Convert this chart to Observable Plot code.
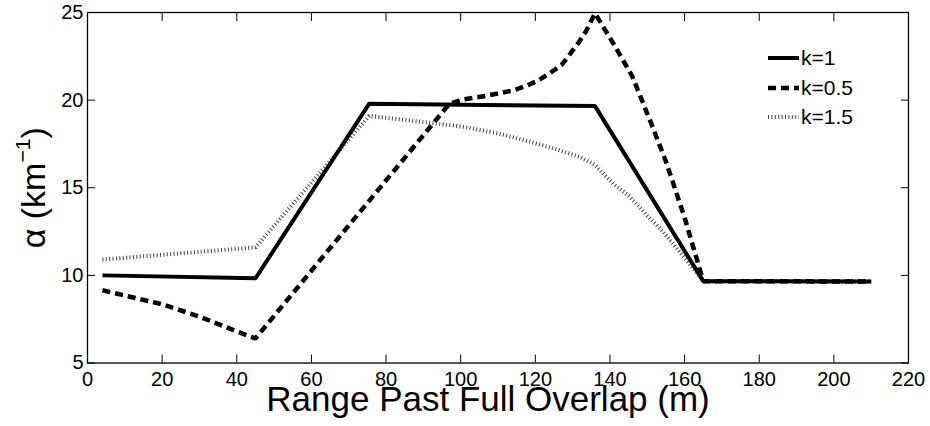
<!DOCTYPE html>
<html>
<head>
<meta charset="utf-8">
<script src="https://cdn.jsdelivr.net/npm/d3@7"></script>
<script src="https://cdn.jsdelivr.net/npm/@observablehq/plot@0.6"></script>
<style>
  html, body { margin: 0; padding: 0; background: #fff; }
  #wrap { position: relative; width: 930px; height: 426px; }
  #legend { position: absolute; left: 0; top: 0; pointer-events: none; }
</style>
</head>
<body>
<div id="wrap"></div>
<script>
// ---- data ----
const xTicks = [0, 20, 40, 60, 80, 100, 120, 140, 160, 180, 200, 220];
const yTicks = [5, 10, 15, 20, 25];

const k1X = [4, 45, 75.5, 136, 165, 210];
const k1Y = [10.0, 9.83, 19.8, 19.66, 9.67, 9.65];

const k05X = [4, 20, 30, 40, 45, 97, 101, 107, 114, 118, 121, 124, 127, 129, 131.5, 133.5, 136, 141, 146, 151, 155, 160, 165, 210];
const k05Y = [9.15, 8.35, 7.65, 6.8, 6.4, 19.8, 20.05, 20.25, 20.55, 20.85, 21.15, 21.55, 22.0, 22.55, 23.25, 23.9, 24.95, 23.2, 21.35, 18.7, 16.5, 13.3, 9.67, 9.65];

const k15X = [4, 45, 75.5, 90, 100, 110, 120, 127, 132, 136, 141, 145, 150, 154, 160, 165, 210];
const k15Y = [10.9, 11.6, 19.1, 18.75, 18.5, 18.1, 17.55, 17.1, 16.75, 16.3, 15.2, 14.55, 13.4, 12.55, 11.0, 9.67, 9.65];

const seriesNames = ["k=1", "k=0.5", "k=1.5"];
const xLabel = "Range Past Full Overlap (m)";
const yLabelBase = "α (km";
const yLabelSup = "−1";
const yLabelEnd = ")";
const yLabel = yLabelBase + yLabelSup + yLabelEnd;

// ---- build tables ----
const toRows = (xs, ys) => xs.map((x, i) => ({x, y: ys[i]}));
const k1 = toRows(k1X, k1Y);
const k05 = toRows(k05X, k05Y);
const k15 = toRows(k15X, k15Y);

const font = "'Liberation Sans', Arial, Helvetica, sans-serif";
const styles = {
  "k=1":   {stroke: "#000", strokeWidth: 4, strokeDasharray: null},
  "k=0.5": {stroke: "#000", strokeWidth: 4.5, strokeDasharray: "8,5"},
  "k=1.5": {stroke: "#444", strokeWidth: 4, strokeDasharray: "1,2.4"}
};

const chart = Plot.plot({
  width: 930,
  height: 426,
  marginLeft: 87,
  marginRight: 22,
  marginTop: 12,
  marginBottom: 63.5,
  x: {domain: [0, 220]},
  y: {domain: [5, 25]},
  style: {fontFamily: font, fontSize: "20px", color: "#000", background: "#fff", overflow: "visible"},
  marks: [
    Plot.line(k15, {x: "x", y: "y", ...styles["k=1.5"], strokeLinejoin: "miter", strokeLinecap: "butt"}),
    Plot.line(k05, {x: "x", y: "y", ...styles["k=0.5"], strokeLinejoin: "miter", strokeLinecap: "butt"}),
    Plot.line(k1, {x: "x", y: "y", ...styles["k=1"], strokeLinejoin: "miter", strokeLinecap: "butt"}),
    Plot.frame({stroke: "#000", strokeWidth: 1.3}),
    Plot.axisX(xTicks, {anchor: "bottom", tickSize: -8, tickPadding: 17, label: null, fontSize: 20}),
    Plot.axisX(xTicks, {anchor: "top", tickSize: -8, tickFormat: () => "", label: null}),
    Plot.axisY(yTicks, {anchor: "left", tickSize: -8, tickPadding: 12, label: null, fontSize: 20}),
    Plot.axisY(yTicks, {anchor: "right", tickSize: -8, tickFormat: () => "", label: null}),
    Plot.text([xLabel], {text: d => d, frameAnchor: "bottom", lineAnchor: "middle", textAnchor: "middle", dy: 37, dx: -10, fontSize: 35, fill: "#000"}),
    Plot.text([yLabel], {text: d => d, frameAnchor: "left", lineAnchor: "middle", textAnchor: "middle", rotate: -90, dx: -53, fontSize: 34, fill: "#000"})
  ]
});

// superscript for the y label unit
d3.select(chart).selectAll("text").filter(function() { return this.textContent === yLabel; })
  .each(function() {
    const t = d3.select(this);
    t.text(null);
    t.append("tspan").text(yLabelBase);
    t.append("tspan").attr("font-size", "0.62em").attr("dy", "-0.75em").text(yLabelSup);
    t.append("tspan").attr("dy", "0.465em").text(yLabelEnd);
  });

const wrap = document.getElementById("wrap");
wrap.appendChild(chart);

// ---- legend (overlay inside the plot area, top right) ----
const leg = d3.select(wrap).append("svg")
  .attr("id", "legend")
  .attr("width", 930).attr("height", 426)
  .style("font-family", font);
const rowY = [58, 88, 117];
seriesNames.forEach((name, i) => {
  const s = styles[name];
  leg.append("line")
    .attr("x1", 768).attr("x2", 799)
    .attr("y1", rowY[i]).attr("y2", rowY[i])
    .attr("stroke", s.stroke)
    .attr("stroke-width", s.strokeWidth)
    .attr("stroke-dasharray", s.strokeDasharray);
  leg.append("text")
    .attr("x", 801).attr("y", rowY[i])
    .attr("dy", "0.35em")
    .attr("font-size", 21)
    .text(name);
});
</script>
</body>
</html>
